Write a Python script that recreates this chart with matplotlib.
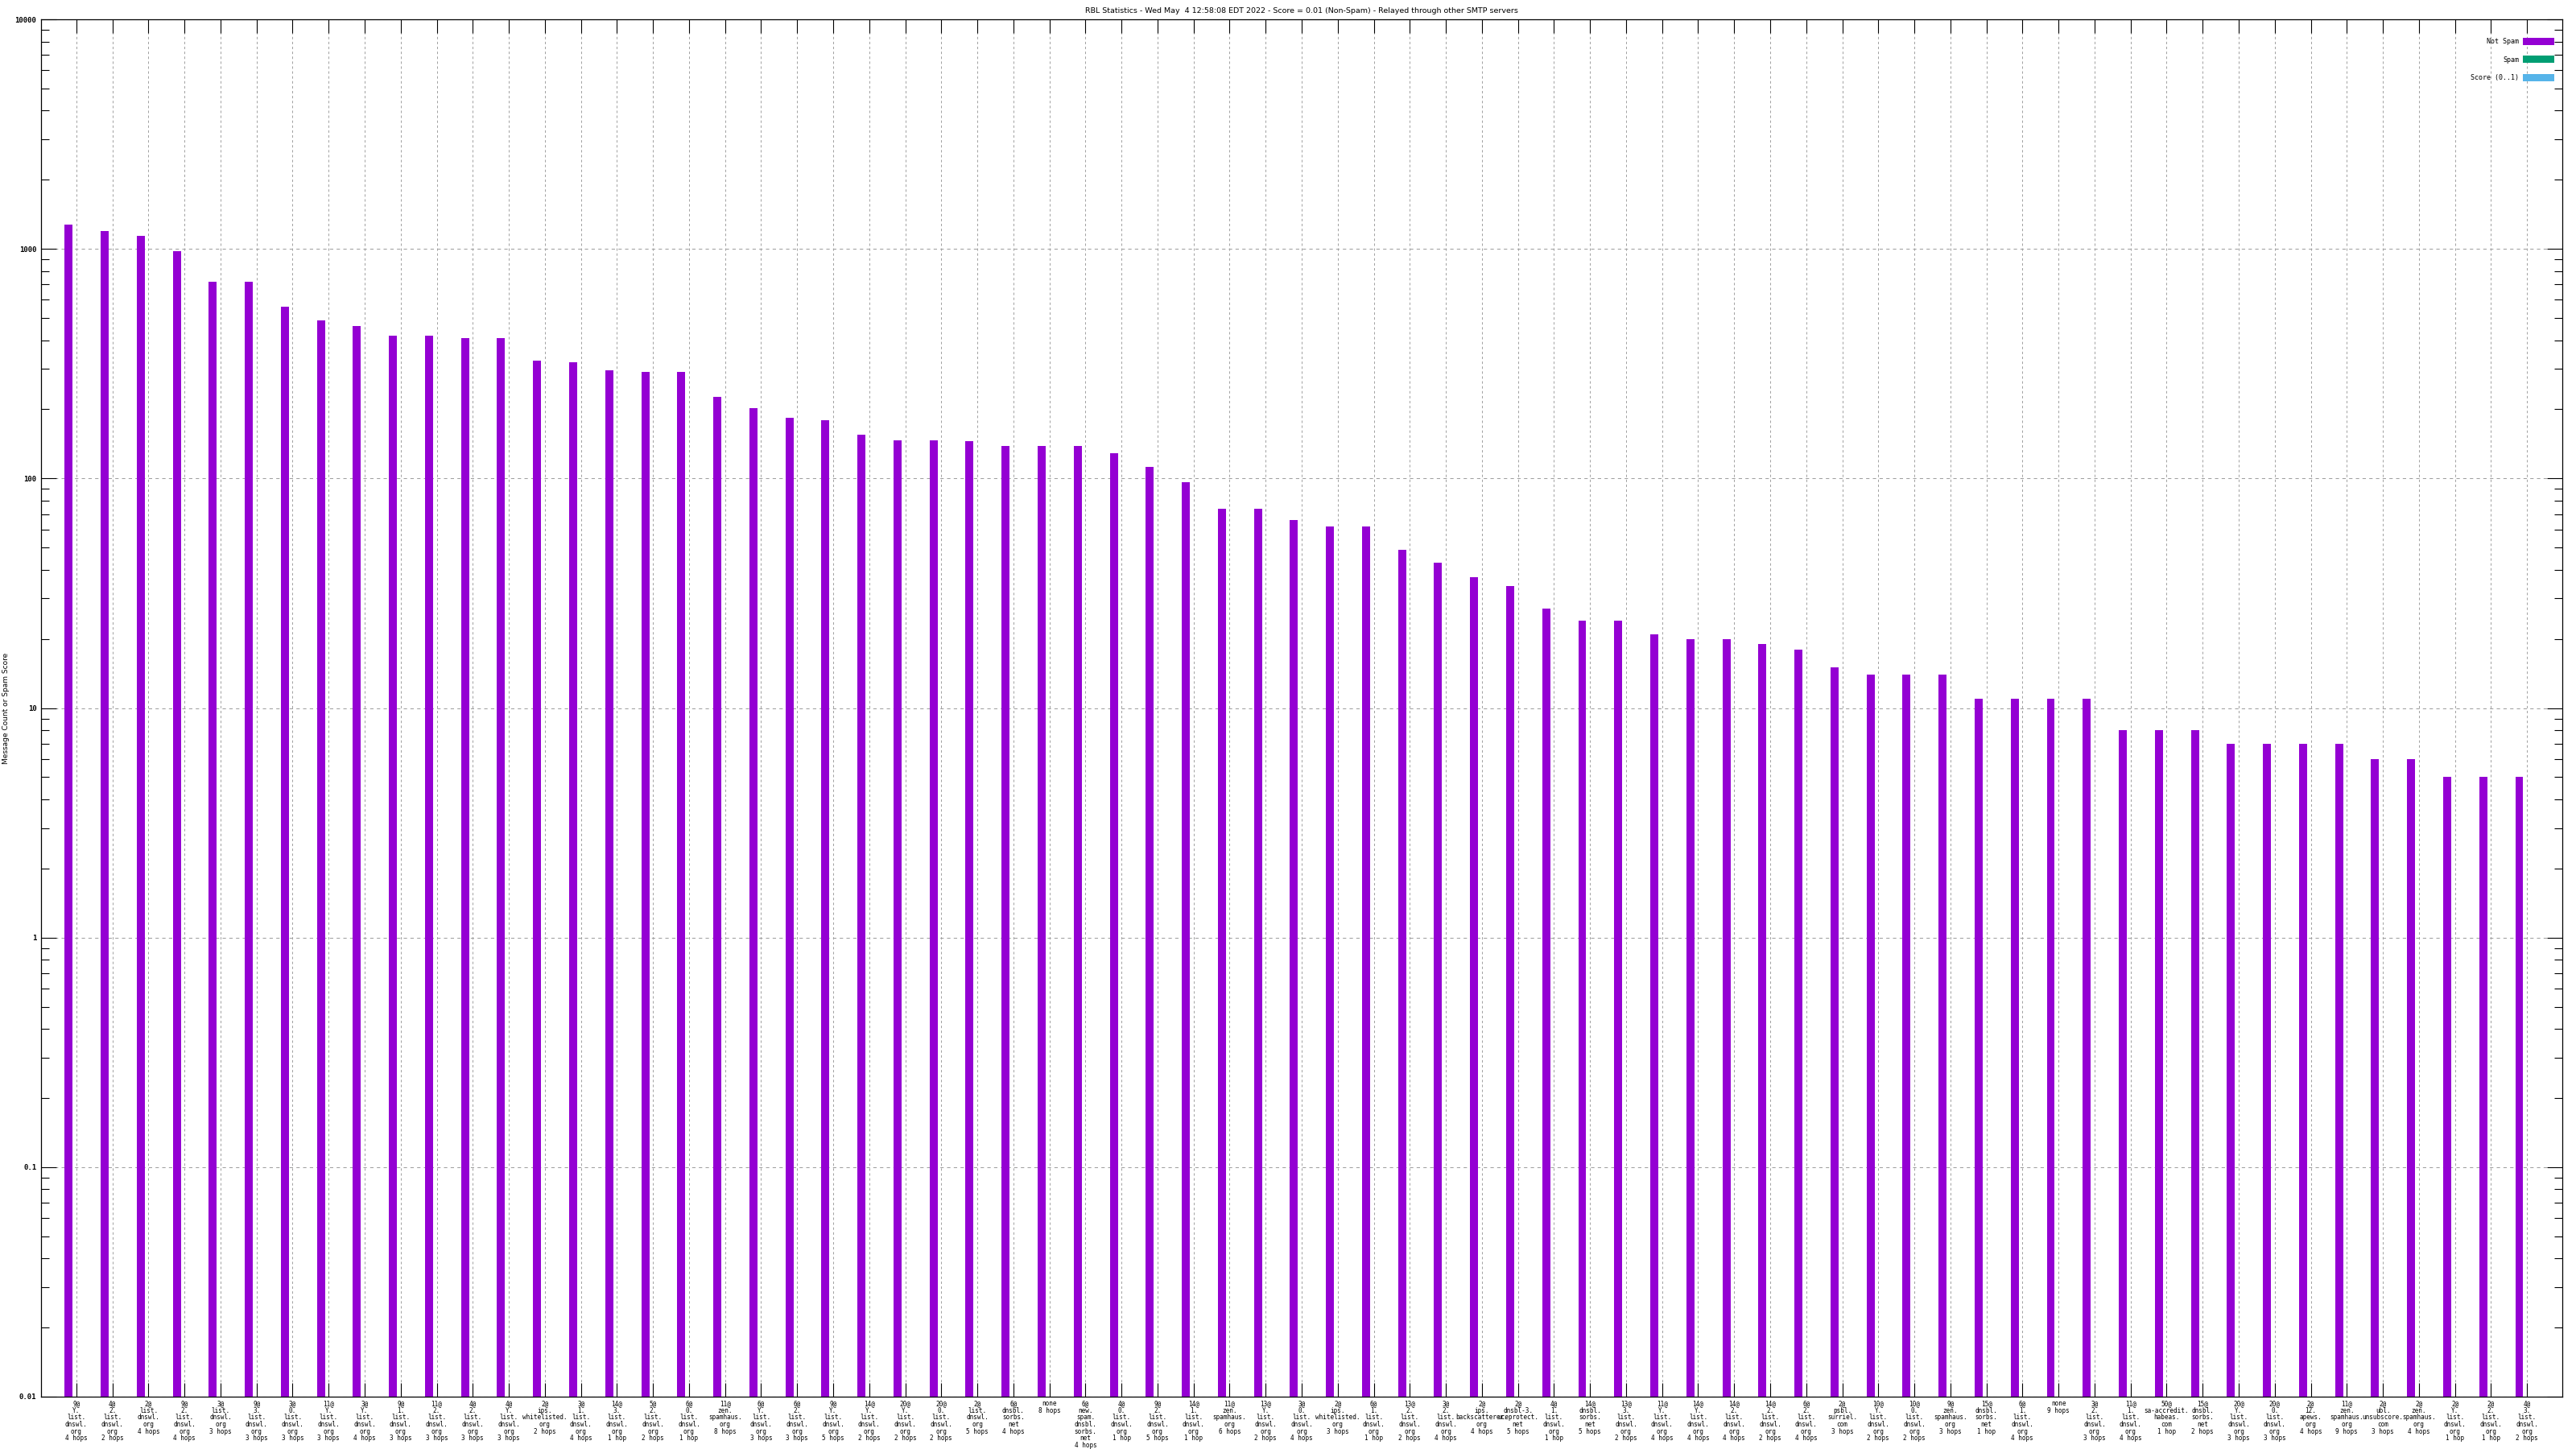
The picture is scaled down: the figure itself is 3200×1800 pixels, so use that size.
import matplotlib
matplotlib.use('Agg')
import matplotlib.pyplot as plt
from matplotlib.patches import Patch
from matplotlib.ticker import FixedLocator, LogLocator, NullFormatter

# Значения столбцов "Not Spam" (логарифмическая шкала)
not_spam = [1280, 1200, 1140, 980, 720, 720, 560, 490, 460, 417, 417, 410, 410,
            326, 320, 295, 290, 290, 226, 202, 183, 180, 155, 147, 147, 145,
            138, 138, 138, 129, 112, 96, 74, 74, 66, 62, 62, 49, 43, 37, 34,
            27, 24, 24, 21, 20, 20, 19, 18, 15, 14, 14, 14, 11, 11, 11, 11,
            8, 8, 8, 7, 7, 7, 7, 6, 6, 5, 5, 5]

# Подписи категорий (маршрут RBL)
labels = [
    "9@\nY.\nlist.\ndnswl.\norg\n4 hops",
    "4@\n2.\nlist.\ndnswl.\norg\n2 hops",
    "2@\nlist.\ndnswl.\norg\n4 hops",
    "9@\n2.\nlist.\ndnswl.\norg\n4 hops",
    "3@\nlist.\ndnswl.\norg\n3 hops",
    "9@\n3.\nlist.\ndnswl.\norg\n3 hops",
    "3@\n0.\nlist.\ndnswl.\norg\n3 hops",
    "11@\nY.\nlist.\ndnswl.\norg\n3 hops",
    "3@\nY.\nlist.\ndnswl.\norg\n4 hops",
    "9@\n1.\nlist.\ndnswl.\norg\n3 hops",
    "11@\n2.\nlist.\ndnswl.\norg\n3 hops",
    "4@\n2.\nlist.\ndnswl.\norg\n3 hops",
    "4@\nY.\nlist.\ndnswl.\norg\n3 hops",
    "2@\nips.\nwhitelisted.\norg\n2 hops",
    "3@\n1.\nlist.\ndnswl.\norg\n4 hops",
    "14@\n3.\nlist.\ndnswl.\norg\n1 hop",
    "5@\n2.\nlist.\ndnswl.\norg\n2 hops",
    "6@\n0.\nlist.\ndnswl.\norg\n1 hop",
    "11@\nzen.\nspamhaus.\norg\n8 hops",
    "6@\nY.\nlist.\ndnswl.\norg\n3 hops",
    "6@\n2.\nlist.\ndnswl.\norg\n3 hops",
    "9@\nY.\nlist.\ndnswl.\norg\n5 hops",
    "14@\nY.\nlist.\ndnswl.\norg\n2 hops",
    "20@\nY.\nlist.\ndnswl.\norg\n2 hops",
    "20@\n0.\nlist.\ndnswl.\norg\n2 hops",
    "2@\nlist.\ndnswl.\norg\n5 hops",
    "6@\ndnsbl.\nsorbs.\nnet\n4 hops",
    "none\n8 hops",
    "6@\nnew.\nspam.\ndnsbl.\nsorbs.\nnet\n4 hops",
    "4@\n0.\nlist.\ndnswl.\norg\n1 hop",
    "9@\n2.\nlist.\ndnswl.\norg\n5 hops",
    "14@\n1.\nlist.\ndnswl.\norg\n1 hop",
    "11@\nzen.\nspamhaus.\norg\n6 hops",
    "13@\nY.\nlist.\ndnswl.\norg\n2 hops",
    "3@\n0.\nlist.\ndnswl.\norg\n4 hops",
    "2@\nips.\nwhitelisted.\norg\n3 hops",
    "6@\n1.\nlist.\ndnswl.\norg\n1 hop",
    "13@\n2.\nlist.\ndnswl.\norg\n2 hops",
    "3@\n2.\nlist.\ndnswl.\norg\n4 hops",
    "2@\nips.\nbackscatterer.\norg\n4 hops",
    "2@\ndnsbl-3.\nuceprotect.\nnet\n5 hops",
    "4@\n1.\nlist.\ndnswl.\norg\n1 hop",
    "14@\ndnsbl.\nsorbs.\nnet\n5 hops",
    "13@\n3.\nlist.\ndnswl.\norg\n2 hops",
    "11@\nY.\nlist.\ndnswl.\norg\n4 hops",
    "14@\nY.\nlist.\ndnswl.\norg\n4 hops",
    "14@\n2.\nlist.\ndnswl.\norg\n4 hops",
    "14@\n2.\nlist.\ndnswl.\norg\n2 hops",
    "6@\n2.\nlist.\ndnswl.\norg\n4 hops",
    "2@\npsbl.\nsurriel.\ncom\n3 hops",
    "10@\nY.\nlist.\ndnswl.\norg\n2 hops",
    "10@\n0.\nlist.\ndnswl.\norg\n2 hops",
    "9@\nzen.\nspamhaus.\norg\n3 hops",
    "15@\ndnsbl.\nsorbs.\nnet\n1 hop",
    "6@\n1.\nlist.\ndnswl.\norg\n4 hops",
    "none\n9 hops",
    "3@\n2.\nlist.\ndnswl.\norg\n3 hops",
    "11@\n1.\nlist.\ndnswl.\norg\n4 hops",
    "50@\nsa-accredit.\nhabeas.\ncom\n1 hop",
    "15@\ndnsbl.\nsorbs.\nnet\n2 hops",
    "20@\nY.\nlist.\ndnswl.\norg\n3 hops",
    "20@\n0.\nlist.\ndnswl.\norg\n3 hops",
    "2@\n12.\napews.\norg\n4 hops",
    "11@\nzen.\nspamhaus.\norg\n9 hops",
    "2@\nubl.\nunsubscore.\ncom\n3 hops",
    "2@\nzen.\nspamhaus.\norg\n4 hops",
    "2@\nY.\nlist.\ndnswl.\norg\n1 hop",
    "2@\n2.\nlist.\ndnswl.\norg\n1 hop",
    "4@\n3.\nlist.\ndnswl.\norg\n2 hops",
]

series_names = ['Not Spam', 'Spam', 'Score (0..1)']
series_colors = ['#9400d3', '#009e73', '#56b4e9']
y_ticks = [0.01, 0.1, 1, 10, 100, 1000, 10000]
y_tick_labels = ['0.01', '0.1', '1', '10', '100', '1000', '10000']

title = ('RBL Statistics - Wed May  4 12:58:08 EDT 2022 - Score = 0.01 '
         '(Non-Spam) - Relayed through other SMTP servers')

plt.rcParams['lines.scale_dashes'] = False

fig = plt.figure(figsize=(32, 18), dpi=100)
ax = fig.add_axes([51 / 3200, 1 - 1735 / 1800, 3132 / 3200, 1711 / 1800])

n = len(not_spam)
pos = list(range(n))
ax.bar([p - 0.215 for p in pos], not_spam, width=0.222,
       color=series_colors[0], linewidth=0)

ax.set_yscale('log')
ax.set_ylim(0.01, 10000)
ax.set_xlim(-0.98, n - 1 + 0.98)

# оси и сетка в стиле gnuplot
for sp in ax.spines.values():
    sp.set_linewidth(0.9)
ax.set_xticks(pos)
ax.set_xticklabels(labels, fontsize=5.5, family='DejaVu Sans Mono',
                   linespacing=0.95)
ax.tick_params(axis='x', direction='in', length=12.5, width=0.8,
               top=True, pad=3)
ax.yaxis.set_major_locator(FixedLocator(y_ticks))
ax.set_yticklabels(y_tick_labels, fontsize=6.5, family='DejaVu Sans Mono',
                   fontweight='bold')
ax.yaxis.set_minor_locator(LogLocator(base=10, subs=range(2, 10), numticks=20))
ax.yaxis.set_minor_formatter(NullFormatter())
ax.tick_params(axis='y', which='major', direction='in', length=13.5,
               width=0.8, right=True, pad=4)
ax.tick_params(axis='y', which='minor', direction='in', length=7,
               width=0.8, right=True)

ax.grid(True, axis='y', which='major', color='#a0a0a0', linewidth=0.75,
        linestyle=(0, (3, 3)))
ax.grid(True, axis='x', color='#a0a0a0', linewidth=0.7,
        linestyle=(0, (2.2, 2.2)))
ax.set_axisbelow(True)

ax.set_ylabel('Message Count or Spam Score', fontsize=6.5)
ax.yaxis.set_label_coords(-0.0125, 0.5)
ax.set_title(title, fontsize=6.8, pad=6)

handles = [Patch(facecolor=c, edgecolor='none') for c in series_colors]
ax.legend(handles, series_names, loc='upper right', frameon=False,
          markerfirst=False, prop={'family': 'DejaVu Sans Mono', 'size': 6},
          handlelength=4.7, handleheight=1.3, labelspacing=1.55,
          handletextpad=0.6, bbox_to_anchor=(0.998, 0.9885), borderaxespad=0)

fig.savefig('out.png', dpi=100)
